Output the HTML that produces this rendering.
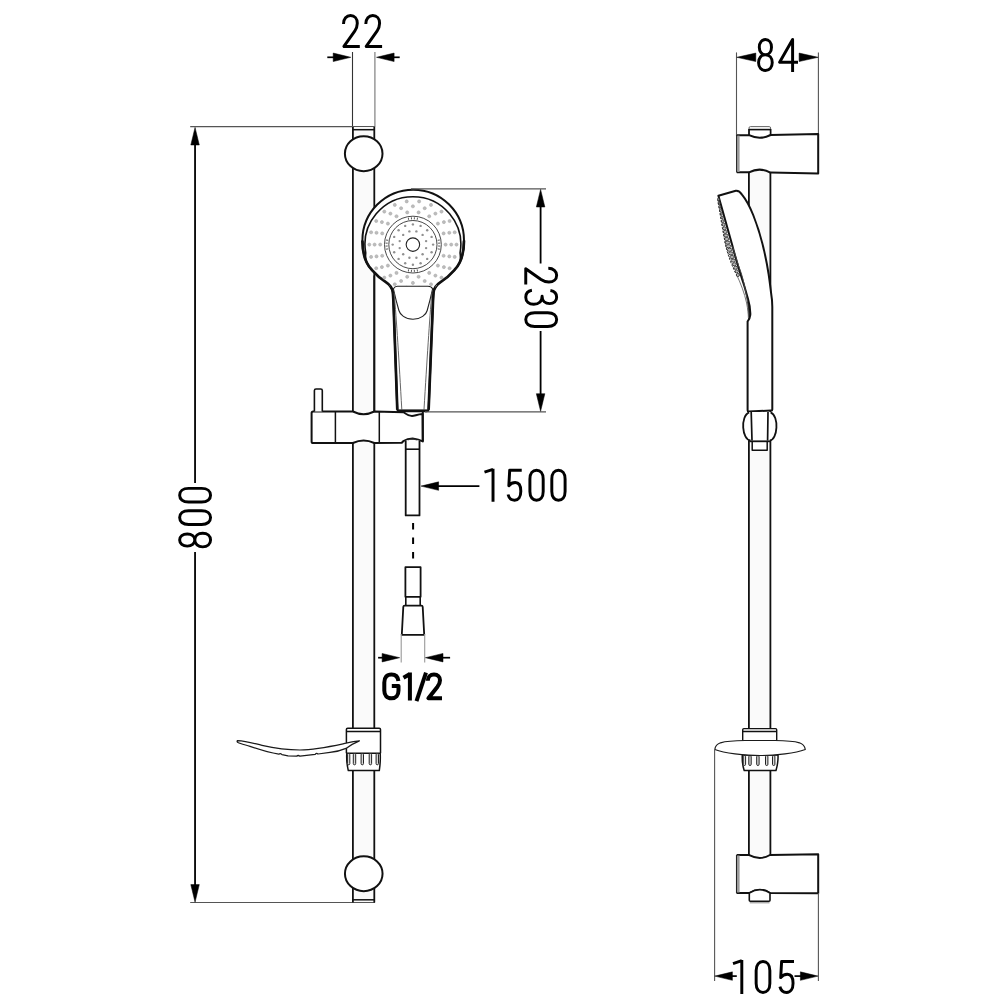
<!DOCTYPE html>
<html><head><meta charset="utf-8"><style>
html,body{margin:0;padding:0;background:#fff;width:1000px;height:1000px;overflow:hidden;font-family:"Liberation Sans",sans-serif}
svg{display:block}
</style></head><body>
<svg width="1000" height="1000" viewBox="0 0 1000 1000">
<rect width="1000" height="1000" fill="#fff"/>
<line x1="352.5" y1="52" x2="352.5" y2="127" stroke="#333" stroke-width="1.1" />
<line x1="374.9" y1="52" x2="374.9" y2="127" stroke="#888" stroke-width="1.3" />
<path d="M350.80,57.30 L333.20,61.55 L333.20,53.05 Z" fill="#000" stroke="#000" stroke-width="0.5" stroke-linejoin="miter"/>
<line x1="334.20" y1="57.30" x2="327.30" y2="57.30" stroke="#000" stroke-width="1.7"/>
<path d="M376.50,57.30 L394.10,53.05 L394.10,61.55 Z" fill="#000" stroke="#000" stroke-width="0.5" stroke-linejoin="miter"/>
<line x1="393.10" y1="57.30" x2="399.70" y2="57.30" stroke="#000" stroke-width="1.7"/>
<line x1="190.2" y1="126.6" x2="375" y2="126.6" stroke="#555" stroke-width="1.2" />
<line x1="190.2" y1="902.5" x2="375" y2="902.5" stroke="#555" stroke-width="1.2" />
<line x1="195.05" y1="140" x2="195.05" y2="483" stroke="#000" stroke-width="1.8" />
<line x1="195.05" y1="552" x2="195.05" y2="888" stroke="#000" stroke-width="1.8" />
<path d="M195.05,127.40 L199.30,145.00 L190.80,145.00 Z" fill="#000" stroke="#000" stroke-width="0.5" stroke-linejoin="miter"/>
<path d="M195.05,902.20 L190.80,884.60 L199.30,884.60 Z" fill="#000" stroke="#000" stroke-width="0.5" stroke-linejoin="miter"/>
<rect x="353" y="127" width="21.4" height="775" fill="#fafafa"/>
<line x1="352.9" y1="127" x2="352.9" y2="902.5" stroke="#111" stroke-width="1.8" />
<line x1="374.3" y1="127" x2="374.3" y2="902.5" stroke="#111" stroke-width="1.8" />
<line x1="352.9" y1="129.7" x2="374.3" y2="129.7" stroke="#111" stroke-width="1.5" />
<line x1="352.9" y1="899.8" x2="374.3" y2="899.8" stroke="#111" stroke-width="1.5" />
<ellipse cx="363.7" cy="153.7" rx="18.8" ry="17.5" fill="#fff" stroke="#111" stroke-width="2"/>
<ellipse cx="363.75" cy="873.75" rx="18.8" ry="17.4" fill="#fff" stroke="#111" stroke-width="2"/>
<path d="M397.3,409.8 C396,370 394.5,330 393.6,306 C393.4,300 393.2,296 392.8,292 C392,287.5 389.5,284.5 386.2,282.4 C381,279 375.5,274 371.8,269.8 C366.5,264.5 362.5,256 362.4,240.5 A50.8,50.8 0 0 1 464,240.5 C463.9,256 459.9,264.5 454.6,269.8 C450.9,274 445.4,279 440.2,282.4 C436.9,284.5 434.4,287.5 433.6,292 C433.2,296 433,300 432.8,306 C431.9,330 430.4,370 428.6,409.8 Q428.5,411.2 427,411.2 L399,411.2 Q397.4,411.2 397.3,409.8 Z" fill="#fff" stroke="#111" stroke-width="2.0" stroke-linejoin="round" />
<circle cx="412.9" cy="244.6" r="47.9" fill="#fff" stroke="none"/>
<path d="M366.4,262 Q365.2,258 365.73,252.92 A47.9,47.9 0 1 1 460.07,252.92 Q460.8,258 460,262" fill="none" stroke="#111" stroke-width="1.6" stroke-linejoin="round" />
<path d="M362.4,240.5 C362.5,256 366.5,264.5 371.8,269.8 C375.5,274 381,279 386.2,282.4 C389.5,284.5 392,287.5 392.8,292 C393.2,296 393.4,300 393.6,306 C394.5,330 396,370 397.3,409.8" fill="none" stroke="#111" stroke-width="2.7" stroke-linejoin="round" />
<path d="M464,240.5 C463.9,256 459.9,264.5 454.6,269.8 C450.9,274 445.4,279 440.2,282.4 C436.9,284.5 434.4,287.5 433.6,292 C433.2,296 433,300 432.8,306 C431.9,330 430.4,370 428.6,409.8" fill="none" stroke="#111" stroke-width="2.7" stroke-linejoin="round" />
<clipPath id="fc"><path d="M392.8,292 C392,287.5 389.5,284.5 386.2,282.4 C381,279 375.5,274 371.8,269.8 C366.5,264.5 364.5,256 364.7,244.6 A48.2,48.2 0 0 1 461.1,244.6 C461.9,256 459.9,264.5 454.6,269.8 C450.9,274 445.4,279 440.2,282.4 C436.9,284.5 434.4,287.5 433.6,292 Z"/></clipPath>
<g clip-path="url(#fc)">
<circle cx="416.4" cy="231.4" r="1.2" fill="#909090"/>
<circle cx="422.6" cy="234.9" r="1.2" fill="#909090"/>
<circle cx="426.1" cy="241.1" r="1.2" fill="#909090"/>
<circle cx="426.1" cy="248.1" r="1.2" fill="#909090"/>
<circle cx="422.6" cy="254.3" r="1.2" fill="#909090"/>
<circle cx="416.4" cy="257.8" r="1.2" fill="#909090"/>
<circle cx="409.4" cy="257.8" r="1.2" fill="#909090"/>
<circle cx="403.2" cy="254.3" r="1.2" fill="#909090"/>
<circle cx="399.7" cy="248.1" r="1.2" fill="#909090"/>
<circle cx="399.7" cy="241.1" r="1.2" fill="#909090"/>
<circle cx="403.2" cy="234.9" r="1.2" fill="#909090"/>
<circle cx="409.4" cy="231.4" r="1.2" fill="#909090"/>
<circle cx="412.9" cy="224.4" r="1.2" fill="#909090"/>
<circle cx="420.6" cy="225.9" r="1.2" fill="#909090"/>
<circle cx="427.2" cy="230.3" r="1.2" fill="#909090"/>
<circle cx="431.6" cy="236.9" r="1.2" fill="#909090"/>
<circle cx="433.1" cy="244.6" r="1.2" fill="#909090"/>
<circle cx="431.6" cy="252.3" r="1.2" fill="#909090"/>
<circle cx="427.2" cy="258.9" r="1.2" fill="#909090"/>
<circle cx="420.6" cy="263.3" r="1.2" fill="#909090"/>
<circle cx="412.9" cy="264.8" r="1.2" fill="#909090"/>
<circle cx="405.2" cy="263.3" r="1.2" fill="#909090"/>
<circle cx="398.6" cy="258.9" r="1.2" fill="#909090"/>
<circle cx="394.2" cy="252.3" r="1.2" fill="#909090"/>
<circle cx="392.7" cy="244.6" r="1.2" fill="#909090"/>
<circle cx="394.2" cy="236.9" r="1.2" fill="#909090"/>
<circle cx="398.6" cy="230.3" r="1.2" fill="#909090"/>
<circle cx="405.2" cy="225.9" r="1.2" fill="#909090"/>
<circle cx="418.6" cy="212.4" r="1.55" fill="#bdbdbd" stroke="#adadad" stroke-width="0.6"/>
<circle cx="429.2" cy="216.3" r="1.55" fill="#bdbdbd" stroke="#adadad" stroke-width="0.6"/>
<circle cx="437.9" cy="223.6" r="1.55" fill="#bdbdbd" stroke="#adadad" stroke-width="0.6"/>
<circle cx="443.6" cy="233.4" r="1.55" fill="#bdbdbd" stroke="#adadad" stroke-width="0.6"/>
<circle cx="445.6" cy="244.6" r="1.55" fill="#bdbdbd" stroke="#adadad" stroke-width="0.6"/>
<circle cx="443.6" cy="255.8" r="1.55" fill="#bdbdbd" stroke="#adadad" stroke-width="0.6"/>
<circle cx="437.9" cy="265.6" r="1.55" fill="#bdbdbd" stroke="#adadad" stroke-width="0.6"/>
<circle cx="429.2" cy="272.9" r="1.55" fill="#bdbdbd" stroke="#adadad" stroke-width="0.6"/>
<circle cx="418.6" cy="276.8" r="1.55" fill="#bdbdbd" stroke="#adadad" stroke-width="0.6"/>
<circle cx="407.2" cy="276.8" r="1.55" fill="#bdbdbd" stroke="#adadad" stroke-width="0.6"/>
<circle cx="396.5" cy="272.9" r="1.55" fill="#bdbdbd" stroke="#adadad" stroke-width="0.6"/>
<circle cx="387.9" cy="265.6" r="1.55" fill="#bdbdbd" stroke="#adadad" stroke-width="0.6"/>
<circle cx="382.2" cy="255.8" r="1.55" fill="#bdbdbd" stroke="#adadad" stroke-width="0.6"/>
<circle cx="380.2" cy="244.6" r="1.55" fill="#bdbdbd" stroke="#adadad" stroke-width="0.6"/>
<circle cx="382.2" cy="233.4" r="1.55" fill="#bdbdbd" stroke="#adadad" stroke-width="0.6"/>
<circle cx="387.9" cy="223.6" r="1.55" fill="#bdbdbd" stroke="#adadad" stroke-width="0.6"/>
<circle cx="396.5" cy="216.3" r="1.55" fill="#bdbdbd" stroke="#adadad" stroke-width="0.6"/>
<circle cx="407.2" cy="212.4" r="1.55" fill="#bdbdbd" stroke="#adadad" stroke-width="0.6"/>
<circle cx="412.9" cy="206.3" r="1.55" fill="#bdbdbd" stroke="#adadad" stroke-width="0.6"/>
<circle cx="424.7" cy="208.2" r="1.55" fill="#bdbdbd" stroke="#adadad" stroke-width="0.6"/>
<circle cx="435.4" cy="213.6" r="1.55" fill="#bdbdbd" stroke="#adadad" stroke-width="0.6"/>
<circle cx="443.9" cy="222.1" r="1.55" fill="#bdbdbd" stroke="#adadad" stroke-width="0.6"/>
<circle cx="449.3" cy="232.8" r="1.55" fill="#bdbdbd" stroke="#adadad" stroke-width="0.6"/>
<circle cx="451.2" cy="244.6" r="1.55" fill="#bdbdbd" stroke="#adadad" stroke-width="0.6"/>
<circle cx="449.3" cy="256.4" r="1.55" fill="#bdbdbd" stroke="#adadad" stroke-width="0.6"/>
<circle cx="443.9" cy="267.1" r="1.55" fill="#bdbdbd" stroke="#adadad" stroke-width="0.6"/>
<circle cx="435.4" cy="275.6" r="1.55" fill="#bdbdbd" stroke="#adadad" stroke-width="0.6"/>
<circle cx="424.7" cy="281.0" r="1.55" fill="#bdbdbd" stroke="#adadad" stroke-width="0.6"/>
<circle cx="412.9" cy="282.9" r="1.55" fill="#bdbdbd" stroke="#adadad" stroke-width="0.6"/>
<circle cx="401.1" cy="281.0" r="1.55" fill="#bdbdbd" stroke="#adadad" stroke-width="0.6"/>
<circle cx="390.4" cy="275.6" r="1.55" fill="#bdbdbd" stroke="#adadad" stroke-width="0.6"/>
<circle cx="381.9" cy="267.1" r="1.55" fill="#bdbdbd" stroke="#adadad" stroke-width="0.6"/>
<circle cx="376.5" cy="256.4" r="1.55" fill="#bdbdbd" stroke="#adadad" stroke-width="0.6"/>
<circle cx="374.6" cy="244.6" r="1.55" fill="#bdbdbd" stroke="#adadad" stroke-width="0.6"/>
<circle cx="376.5" cy="232.8" r="1.55" fill="#bdbdbd" stroke="#adadad" stroke-width="0.6"/>
<circle cx="381.9" cy="222.1" r="1.55" fill="#bdbdbd" stroke="#adadad" stroke-width="0.6"/>
<circle cx="390.4" cy="213.6" r="1.55" fill="#bdbdbd" stroke="#adadad" stroke-width="0.6"/>
<circle cx="401.1" cy="208.2" r="1.55" fill="#bdbdbd" stroke="#adadad" stroke-width="0.6"/>
<circle cx="419.1" cy="201.4" r="1.55" fill="#bdbdbd" stroke="#adadad" stroke-width="0.6"/>
<circle cx="431.0" cy="204.9" r="1.55" fill="#bdbdbd" stroke="#adadad" stroke-width="0.6"/>
<circle cx="441.5" cy="211.6" r="1.55" fill="#bdbdbd" stroke="#adadad" stroke-width="0.6"/>
<circle cx="449.6" cy="221.0" r="1.55" fill="#bdbdbd" stroke="#adadad" stroke-width="0.6"/>
<circle cx="454.7" cy="232.3" r="1.55" fill="#bdbdbd" stroke="#adadad" stroke-width="0.6"/>
<circle cx="456.5" cy="244.6" r="1.55" fill="#bdbdbd" stroke="#adadad" stroke-width="0.6"/>
<circle cx="454.7" cy="256.9" r="1.55" fill="#bdbdbd" stroke="#adadad" stroke-width="0.6"/>
<circle cx="449.6" cy="268.2" r="1.55" fill="#bdbdbd" stroke="#adadad" stroke-width="0.6"/>
<circle cx="441.5" cy="277.6" r="1.55" fill="#bdbdbd" stroke="#adadad" stroke-width="0.6"/>
<circle cx="431.0" cy="284.3" r="1.55" fill="#bdbdbd" stroke="#adadad" stroke-width="0.6"/>
<circle cx="419.1" cy="287.8" r="1.55" fill="#bdbdbd" stroke="#adadad" stroke-width="0.6"/>
<circle cx="406.7" cy="287.8" r="1.55" fill="#bdbdbd" stroke="#adadad" stroke-width="0.6"/>
<circle cx="394.8" cy="284.3" r="1.55" fill="#bdbdbd" stroke="#adadad" stroke-width="0.6"/>
<circle cx="384.3" cy="277.6" r="1.55" fill="#bdbdbd" stroke="#adadad" stroke-width="0.6"/>
<circle cx="376.2" cy="268.2" r="1.55" fill="#bdbdbd" stroke="#adadad" stroke-width="0.6"/>
<circle cx="371.1" cy="256.9" r="1.55" fill="#bdbdbd" stroke="#adadad" stroke-width="0.6"/>
<circle cx="369.3" cy="244.6" r="1.55" fill="#bdbdbd" stroke="#adadad" stroke-width="0.6"/>
<circle cx="371.1" cy="232.3" r="1.55" fill="#bdbdbd" stroke="#adadad" stroke-width="0.6"/>
<circle cx="376.2" cy="221.0" r="1.55" fill="#bdbdbd" stroke="#adadad" stroke-width="0.6"/>
<circle cx="384.3" cy="211.6" r="1.55" fill="#bdbdbd" stroke="#adadad" stroke-width="0.6"/>
<circle cx="394.8" cy="204.9" r="1.55" fill="#bdbdbd" stroke="#adadad" stroke-width="0.6"/>
<circle cx="406.7" cy="201.4" r="1.55" fill="#bdbdbd" stroke="#adadad" stroke-width="0.6"/>
<circle cx="447.5" cy="279.2" r="1.55" fill="#bdbdbd" stroke="#adadad" stroke-width="0.6"/>
<circle cx="437.3" cy="286.9" r="1.55" fill="#bdbdbd" stroke="#adadad" stroke-width="0.6"/>
<circle cx="425.6" cy="291.8" r="1.55" fill="#bdbdbd" stroke="#adadad" stroke-width="0.6"/>
<circle cx="412.9" cy="293.5" r="1.55" fill="#bdbdbd" stroke="#adadad" stroke-width="0.6"/>
<circle cx="400.2" cy="291.8" r="1.55" fill="#bdbdbd" stroke="#adadad" stroke-width="0.6"/>
<circle cx="388.4" cy="286.9" r="1.55" fill="#bdbdbd" stroke="#adadad" stroke-width="0.6"/>
<circle cx="378.3" cy="279.2" r="1.55" fill="#bdbdbd" stroke="#adadad" stroke-width="0.6"/>
<circle cx="453.5" cy="280.5" r="1.55" fill="#bdbdbd" stroke="#adadad" stroke-width="0.6"/>
<circle cx="443.7" cy="289.2" r="1.55" fill="#bdbdbd" stroke="#adadad" stroke-width="0.6"/>
<circle cx="432.1" cy="295.3" r="1.55" fill="#bdbdbd" stroke="#adadad" stroke-width="0.6"/>
<circle cx="419.4" cy="298.4" r="1.55" fill="#bdbdbd" stroke="#adadad" stroke-width="0.6"/>
<circle cx="406.4" cy="298.4" r="1.55" fill="#bdbdbd" stroke="#adadad" stroke-width="0.6"/>
<circle cx="393.7" cy="295.3" r="1.55" fill="#bdbdbd" stroke="#adadad" stroke-width="0.6"/>
<circle cx="382.1" cy="289.2" r="1.55" fill="#bdbdbd" stroke="#adadad" stroke-width="0.6"/>
<circle cx="372.3" cy="280.5" r="1.55" fill="#bdbdbd" stroke="#adadad" stroke-width="0.6"/>
</g>
<circle cx="412.9" cy="244.6" r="28.4" fill="none" stroke="#333" stroke-width="0.9"/>
<circle cx="412.9" cy="244.6" r="24.1" fill="none" stroke="#333" stroke-width="0.9"/>
<circle cx="412.9" cy="244.6" r="6.75" fill="#fff" stroke="#222" stroke-width="1.1"/>
<line x1="408.6" y1="219.8" x2="408.3" y2="217.7" stroke="#444" stroke-width="0.9" />
<line x1="411.5" y1="219.4" x2="411.4" y2="217.3" stroke="#444" stroke-width="0.9" />
<line x1="414.3" y1="219.4" x2="414.4" y2="217.3" stroke="#444" stroke-width="0.9" />
<line x1="417.2" y1="219.8" x2="417.5" y2="217.7" stroke="#444" stroke-width="0.9" />
<line x1="417.2" y1="269.4" x2="417.5" y2="271.5" stroke="#444" stroke-width="0.9" />
<line x1="414.3" y1="269.8" x2="414.4" y2="271.9" stroke="#444" stroke-width="0.9" />
<line x1="411.5" y1="269.8" x2="411.4" y2="271.9" stroke="#444" stroke-width="0.9" />
<line x1="408.6" y1="269.4" x2="408.3" y2="271.5" stroke="#444" stroke-width="0.9" />
<line x1="388.1" y1="248.9" x2="386.0" y2="249.2" stroke="#444" stroke-width="0.9" />
<line x1="387.7" y1="246.0" x2="385.6" y2="246.1" stroke="#444" stroke-width="0.9" />
<line x1="387.7" y1="243.2" x2="385.6" y2="243.1" stroke="#444" stroke-width="0.9" />
<line x1="388.1" y1="240.3" x2="386.0" y2="240.0" stroke="#444" stroke-width="0.9" />
<line x1="437.7" y1="240.3" x2="439.8" y2="240.0" stroke="#444" stroke-width="0.9" />
<line x1="438.1" y1="243.2" x2="440.2" y2="243.1" stroke="#444" stroke-width="0.9" />
<line x1="438.1" y1="246.0" x2="440.2" y2="246.1" stroke="#444" stroke-width="0.9" />
<line x1="437.7" y1="248.9" x2="439.8" y2="249.2" stroke="#444" stroke-width="0.9" />
<path d="M393.4,288.8 C394.4,287 395.4,286.2 397.4,286.2 L428,286.2 C430,286.2 431.6,287 432.6,288.8 C431,296 429,304 427.2,310.5 C426.2,314.5 421,319.3 413,319.3 C405,319.3 400,314.5 398.9,310.5 C397,304 395,296 393.4,288.8 Z" fill="#fff" stroke="#222" stroke-width="1.1" stroke-linejoin="round" />
<path d="M394.2,293 C396.5,320 399,360 401.8,409.5" fill="none" stroke="#555" stroke-width="0.9" stroke-linejoin="round" />
<path d="M431.8,293 C429.5,320 427,360 424,409.5" fill="none" stroke="#555" stroke-width="0.9" stroke-linejoin="round" />
<line x1="397.5" y1="410.6" x2="428.5" y2="410.6" stroke="#111" stroke-width="2.4" />
<line x1="374.3" y1="275.5" x2="374.3" y2="411.5" stroke="#111" stroke-width="1.8" />
<line x1="411" y1="188.8" x2="546" y2="188.8" stroke="#555" stroke-width="1.2" />
<line x1="425" y1="411.8" x2="546" y2="411.8" stroke="#555" stroke-width="1.2" />
<line x1="540.6" y1="200" x2="540.6" y2="263.5" stroke="#000" stroke-width="1.8" />
<line x1="540.6" y1="331" x2="540.6" y2="400" stroke="#000" stroke-width="1.8" />
<path d="M540.60,189.40 L544.85,207.00 L536.35,207.00 Z" fill="#000" stroke="#000" stroke-width="0.5" stroke-linejoin="miter"/>
<path d="M540.60,411.30 L536.35,393.70 L544.85,393.70 Z" fill="#000" stroke="#000" stroke-width="0.5" stroke-linejoin="miter"/>
<path d="M313.2,411.5 L352.9,411.5 Q363.6,416.8 374.3,411.5 L403.6,412.3 C406,414 408.5,415.9 412,415.9 C415,415.9 417,414.4 422.6,414.1 L422.8,441.4 C420,439.8 418,439 412.6,438.4 C409,438.4 406.5,439 403.5,441 L401.8,442.8 L374.3,443 Q363.6,437.8 352.9,443 L313.2,443 Q311.6,443 311.6,441.4 L311.6,413.1 Q311.6,411.5 313.2,411.5 Z" fill="#fff" stroke="#111" stroke-width="2.0" stroke-linejoin="round" />
<line x1="335.4" y1="411.5" x2="335.4" y2="443" stroke="#111" stroke-width="1.5" />
<line x1="379.3" y1="412" x2="379.3" y2="443" stroke="#111" stroke-width="1.5" />
<line x1="422.8" y1="410.8" x2="422.8" y2="441.4" stroke="#111" stroke-width="2.0" />
<path d="M314.4,411.5 L314.4,390.6 Q314.4,389 316,389 L320.7,389 Q322.3,389 322.3,390.6 L322.3,411.5" fill="#fff" stroke="#111" stroke-width="1.6" stroke-linejoin="round" />
<path d="M405.7,440.5 L405.7,515.4 L419.5,515.4 L419.5,440.5" fill="#fff" stroke="#111" stroke-width="1.8" stroke-linejoin="round" />
<line x1="405.7" y1="449.2" x2="419.5" y2="449.2" stroke="#111" stroke-width="1.6" />
<path d="M408.5,440 C410,438.6 414,438.6 416.5,440" fill="none" stroke="#333" stroke-width="0.9" stroke-linejoin="round" />
<path d="M421.00,486.10 L438.60,481.85 L438.60,490.35 Z" fill="#000" stroke="#000" stroke-width="0.5" stroke-linejoin="miter"/>
<line x1="437.60" y1="486.10" x2="479.40" y2="486.10" stroke="#000" stroke-width="1.7"/>
<line x1="413.1" y1="523" x2="413.1" y2="560" stroke="#000" stroke-width="2.0" stroke-dasharray="6.5 8"/>
<path d="M405.4,596.8 L405.4,567.2 L420.6,567.2 L420.6,596.8 Z" fill="#fff" stroke="#111" stroke-width="1.8" stroke-linejoin="round" />
<path d="M405.8,596.8 L405.8,605.6 M420.2,596.8 L420.2,605.6" fill="none" stroke="#111" stroke-width="1.6" stroke-linejoin="round" />
<path d="M404.6,605.6 L421.4,605.6 Q422.6,605.6 422.7,606.8 L424.2,634.8 L401.8,634.8 L403.3,606.8 Q403.4,605.6 404.6,605.6 Z" fill="#fff" stroke="#111" stroke-width="1.8" stroke-linejoin="round" />
<line x1="401.2" y1="634" x2="401.2" y2="662.5" stroke="#999" stroke-width="1.1" />
<line x1="424.7" y1="634" x2="424.7" y2="662.5" stroke="#999" stroke-width="1.1" />
<path d="M399.70,657.70 L382.10,661.95 L382.10,653.45 Z" fill="#000" stroke="#000" stroke-width="0.5" stroke-linejoin="miter"/>
<line x1="383.10" y1="657.70" x2="378.10" y2="657.70" stroke="#000" stroke-width="1.7"/>
<path d="M425.40,657.70 L443.00,653.45 L443.00,661.95 Z" fill="#000" stroke="#000" stroke-width="0.5" stroke-linejoin="miter"/>
<line x1="442.00" y1="657.70" x2="450.10" y2="657.70" stroke="#000" stroke-width="1.7"/>
<path d="M346.4,753.3 L346.4,729.6 Q346.4,728.3 347.7,728.3 L379.2,728.3 Q380.5,728.3 380.5,729.6 L380.5,753.3" fill="#fff" stroke="#111" stroke-width="1.5" stroke-linejoin="round" />
<line x1="346.4" y1="731.4" x2="380.5" y2="731.4" stroke="#111" stroke-width="1.5" />
<path d="M346.8,753.3 L380.2,753.3 C380.6,760 380,766 379.3,770.6 L348.3,770.6 C347.2,766 346.4,760 346.8,753.3 Z" fill="#fff" stroke="#111" stroke-width="1.5" stroke-linejoin="round" />
<rect x="347.4" y="753.5" width="2.4" height="11.3" rx="1.2" fill="#d8d8d8" stroke="#222" stroke-width="1.0"/>
<rect x="353.3" y="753.5" width="2.4" height="11.3" rx="1.2" fill="#d8d8d8" stroke="#222" stroke-width="1.0"/>
<rect x="361.1" y="753.5" width="2.4" height="11.3" rx="1.2" fill="#d8d8d8" stroke="#222" stroke-width="1.0"/>
<rect x="369.2" y="753.5" width="2.4" height="11.3" rx="1.2" fill="#d8d8d8" stroke="#222" stroke-width="1.0"/>
<rect x="376.1" y="753.5" width="2.4" height="11.3" rx="1.2" fill="#d8d8d8" stroke="#222" stroke-width="1.0"/>
<path d="M237.6,740.6 C246,741 253,743.2 262,745.3 C272,747.5 285,749.8 300,750 C316,749.8 330,746.6 346,743.2 C351,742 355,741.2 359.4,740.8 C354,743 350,745.5 346,748.4 C340,751 335,752 330,752.4 L318,754 Q316.5,752.8 315.2,754.3 L300,756.2 Q298,754.8 296.6,756.2 L288,755.9 L282,754.6 Q280.3,753 278.8,754.2 C272,753 262,750.5 250,746.3 C244,744.5 240,743.5 238,742.5 Q236.5,741.5 237.6,740.6 Z" fill="#fff" stroke="#1a1a1a" stroke-width="1.25" stroke-linejoin="round" />
<line x1="736.5" y1="52.4" x2="736.5" y2="136" stroke="#555" stroke-width="1.1" />
<line x1="818.4" y1="52.4" x2="818.4" y2="134" stroke="#555" stroke-width="1.1" />
<path d="M736.80,57.30 L755.80,53.05 L755.80,61.55 Z" fill="#000" stroke="#000" stroke-width="0.5" stroke-linejoin="miter"/>
<path d="M818.10,57.30 L799.10,61.55 L799.10,53.05 Z" fill="#000" stroke="#000" stroke-width="0.5" stroke-linejoin="miter"/>
<rect x="749.2" y="127" width="21.2" height="775" fill="#fafafa"/>
<line x1="748.9" y1="170" x2="748.9" y2="858" stroke="#111" stroke-width="1.8" />
<line x1="770.4" y1="170" x2="770.4" y2="858" stroke="#111" stroke-width="1.8" />
<path d="M749,137 L749,128 Q749,126.6 750.4,126.6 L769.2,126.6 Q770.6,126.6 770.6,128 L770.6,137" fill="#fff" stroke="#666" stroke-width="1.0" stroke-linejoin="round" />
<line x1="749" y1="129.6" x2="770.6" y2="129.6" stroke="#111" stroke-width="1.6" />
<line x1="749" y1="129" x2="749" y2="137" stroke="#111" stroke-width="1.7" />
<line x1="770.6" y1="129" x2="770.6" y2="137" stroke="#111" stroke-width="1.7" />
<path d="M736.8,135.3 L749,135.2 Q760,140.5 770.6,135 L818.2,134 L818.2,173.6 L770.4,172.6 Q760,166.8 748.9,172.3 L736.8,172.3" fill="#fff" stroke="#111" stroke-width="2.0" stroke-linejoin="round" />
<rect x="737.2" y="135.6" width="2.4" height="36.4" fill="#9a9a9a"/>
<line x1="736.6" y1="135" x2="736.6" y2="172.6" stroke="#222" stroke-width="1.1" />
<path d="M718.4,195.8 L735.8,190.7 C738.5,190.4 740.5,192.3 742,194.6 C746,199.5 750,207 753.2,215 C758,227 764,245 768.6,274 C770,283 770.8,291.6 772,300 L772.3,307 L772.3,409.4 Q772.3,410.6 771,410.6 L748.8,411.4 Q747.6,411.4 747.6,410.2 L747.6,321.5 C748.5,320.5 749.9,319 750.3,315 C750.5,310 749.5,304 747.9,298.6 C746,292 744.5,286 742.5,280.5 C738,266 735,256 732.2,245 Z" fill="#fff" stroke="#111" stroke-width="2.0" stroke-linejoin="round" />
<path d="M732.6,246.5 C735.5,256 738.5,266 741,272.5 C743.5,280 746,292 747.6,303 C748.4,309 748.6,314 748.6,318.5" fill="none" stroke="#444" stroke-width="1.0" stroke-linejoin="round" />
<path d="M736.3,274 C740.5,283 744.5,293 746.6,303 C747.8,309 748.3,314 748.4,318" fill="none" stroke="#666" stroke-width="0.9" stroke-linejoin="round" />
<ellipse cx="718.4" cy="199.5" rx="0.9" ry="1.5" fill="#bbb" stroke="#333" stroke-width="0.9"/>
<ellipse cx="719.0" cy="203.1" rx="0.9" ry="1.5" fill="#bbb" stroke="#333" stroke-width="0.9"/>
<ellipse cx="719.7" cy="206.7" rx="0.9" ry="1.5" fill="#bbb" stroke="#333" stroke-width="0.9"/>
<ellipse cx="720.5" cy="210.3" rx="0.9" ry="1.5" fill="#bbb" stroke="#333" stroke-width="0.9"/>
<ellipse cx="721.2" cy="213.9" rx="0.9" ry="1.5" fill="#bbb" stroke="#333" stroke-width="0.9"/>
<ellipse cx="722.0" cy="217.5" rx="1.1" ry="1.5" fill="#bbb" stroke="#333" stroke-width="0.9"/>
<ellipse cx="722.8" cy="221.1" rx="1.3" ry="1.5" fill="#bbb" stroke="#333" stroke-width="0.9"/>
<ellipse cx="723.6" cy="224.7" rx="1.5" ry="1.5" fill="#bbb" stroke="#333" stroke-width="0.9"/>
<ellipse cx="724.4" cy="228.3" rx="1.8" ry="1.5" fill="#bbb" stroke="#333" stroke-width="0.9"/>
<ellipse cx="725.2" cy="231.9" rx="2.0" ry="1.5" fill="#bbb" stroke="#333" stroke-width="0.9"/>
<ellipse cx="725.9" cy="235.5" rx="2.2" ry="1.5" fill="#bbb" stroke="#333" stroke-width="0.9"/>
<ellipse cx="726.7" cy="239.0" rx="2.4" ry="1.5" fill="#bbb" stroke="#333" stroke-width="0.9"/>
<ellipse cx="727.5" cy="242.6" rx="2.6" ry="1.5" fill="#bbb" stroke="#333" stroke-width="0.9"/>
<ellipse cx="728.4" cy="246.2" rx="2.7" ry="1.5" fill="#bbb" stroke="#333" stroke-width="0.9"/>
<ellipse cx="729.6" cy="249.8" rx="2.5" ry="1.5" fill="#bbb" stroke="#333" stroke-width="0.9"/>
<ellipse cx="730.8" cy="253.4" rx="2.4" ry="1.5" fill="#bbb" stroke="#333" stroke-width="0.9"/>
<ellipse cx="732.0" cy="257.0" rx="2.3" ry="1.5" fill="#bbb" stroke="#333" stroke-width="0.9"/>
<ellipse cx="733.2" cy="260.6" rx="2.1" ry="1.5" fill="#bbb" stroke="#333" stroke-width="0.9"/>
<ellipse cx="734.4" cy="264.2" rx="2.0" ry="1.5" fill="#bbb" stroke="#333" stroke-width="0.9"/>
<ellipse cx="735.6" cy="267.8" rx="1.9" ry="1.5" fill="#bbb" stroke="#333" stroke-width="0.9"/>
<ellipse cx="736.7" cy="271.4" rx="1.7" ry="1.5" fill="#bbb" stroke="#333" stroke-width="0.9"/>
<ellipse cx="737.9" cy="275.0" rx="1.6" ry="1.5" fill="#bbb" stroke="#333" stroke-width="0.9"/>
<path d="M718.0,199.5 C720,215 723,232 725.6,245 C728,256 732,266 736.2,274.2" fill="none" stroke="#333" stroke-width="1.0" stroke-linejoin="round" stroke-dasharray="2.2 1.3"/>
<path d="M749.3,412 C740,416 742,440 750.5,441 L769.8,441 C777.5,440 779.5,416 770.6,412 Z" fill="#fff"/>
<path d="M749.2,412.4 C740,416 742,440 750.5,440.5" fill="none" stroke="#111" stroke-width="1.8" stroke-linejoin="round" />
<path d="M770.6,412.4 C779.5,416 777.5,440 769.8,440.5" fill="none" stroke="#111" stroke-width="1.8" stroke-linejoin="round" />
<path d="M751.2,412 L752,440.5 M768,412 L767.6,440.5" fill="none" stroke="#111" stroke-width="1.7" stroke-linejoin="round" />
<path d="M752.2,441.2 L752.2,450.2 L767.2,450.2 L767.2,441.2" fill="#fff" stroke="#111" stroke-width="1.5" stroke-linejoin="round" />
<line x1="749.4" y1="441.3" x2="770.6" y2="441.3" stroke="#111" stroke-width="1.8" />
<path d="M742.7,741 L742.7,729.8 Q742.7,728.6 743.9,728.6 L775.5,728.6 Q776.7,728.6 776.7,729.8 L776.7,741" fill="#fff" stroke="#111" stroke-width="1.4" stroke-linejoin="round" />
<line x1="742.7" y1="731.5" x2="776.7" y2="731.5" stroke="#111" stroke-width="1.3" />
<path d="M742.3,755 L778,755 C778.4,762 777,767 776,770.5 L744.2,770.5 C743,767 742,762 742.3,755 Z" fill="#fff" stroke="#111" stroke-width="1.5" stroke-linejoin="round" />
<rect x="743.2" y="755.5" width="2.4" height="10" rx="1.2" fill="#d8d8d8" stroke="#222" stroke-width="1.0"/>
<rect x="748.8" y="755.5" width="2.4" height="10" rx="1.2" fill="#d8d8d8" stroke="#222" stroke-width="1.0"/>
<rect x="756.7" y="755.5" width="2.4" height="10" rx="1.2" fill="#d8d8d8" stroke="#222" stroke-width="1.0"/>
<rect x="765.5" y="755.5" width="2.4" height="10" rx="1.2" fill="#d8d8d8" stroke="#222" stroke-width="1.0"/>
<rect x="772.5" y="755.5" width="2.4" height="10" rx="1.2" fill="#d8d8d8" stroke="#222" stroke-width="1.0"/>
<path d="M714.8,749.5 C715.2,746.5 717,744 720.5,742.8 C726,741.2 735,740.6 745,740.5 L775,740.5 C785,740.6 794,741.2 799.5,742.8 C803,744 804.8,746.5 805.3,749.5 C800,751.5 795,752.6 785,753.8 C775,755 767,755.5 760,755.5 C753,755.5 745,755 735,753.8 C725,752.6 720,751.5 714.8,749.5 Z" fill="#fff" stroke="#1a1a1a" stroke-width="1.2" stroke-linejoin="round" />
<line x1="714.6" y1="750" x2="714.6" y2="981" stroke="#555" stroke-width="1.1" />
<path d="M736.6,855.1 L749.3,855.1 Q760,860.8 770,855 L818.2,854.2 L818.2,893.2 L770,893 Q760,886.5 749.3,893 L736.6,892.9" fill="#fff" stroke="#111" stroke-width="2.0" stroke-linejoin="round" />
<rect x="737.1" y="855.5" width="2.5" height="37" fill="#9a9a9a"/>
<line x1="736.5" y1="855" x2="736.5" y2="893.2" stroke="#222" stroke-width="1.1" />
<path d="M749.3,893 Q760,886.5 770,893 L770,900.2 Q770,901.2 769,901.2 L750.3,901.2 Q749.3,901.2 749.3,900.2 Z" fill="#fff" stroke="#111" stroke-width="1.6" stroke-linejoin="round" />
<line x1="749.8" y1="902.8" x2="769.5" y2="902.8" stroke="#888" stroke-width="1.0" />
<line x1="818.4" y1="893" x2="818.4" y2="981" stroke="#555" stroke-width="1.1" />
<path d="M714.80,976.10 L732.40,971.85 L732.40,980.35 Z" fill="#000" stroke="#000" stroke-width="0.5" stroke-linejoin="miter"/>
<line x1="731.40" y1="976.10" x2="736.80" y2="976.10" stroke="#000" stroke-width="1.7"/>
<path d="M818.00,976.10 L800.40,980.35 L800.40,971.85 Z" fill="#000" stroke="#000" stroke-width="0.5" stroke-linejoin="miter"/>
<line x1="801.40" y1="976.10" x2="794.50" y2="976.10" stroke="#000" stroke-width="1.7"/>
<path transform="translate(342.00,14.00)" d="M1.5,9.9 C1.5,4.8 4.6,1.55 8.5,1.55 C12.6,1.55 15.3,4.8 15.3,9.3 C15.3,12.6 14.3,14.8 12.7,17.2 L1.9,32.45 L17.8,32.45" fill="none" stroke="#000" stroke-width="2.95" stroke-linejoin="round"/>
<path transform="translate(364.30,14.00)" d="M1.5,9.9 C1.5,4.8 4.6,1.55 8.5,1.55 C12.6,1.55 15.3,4.8 15.3,9.3 C15.3,12.6 14.3,14.8 12.7,17.2 L1.9,32.45 L17.8,32.45" fill="none" stroke="#000" stroke-width="2.95" stroke-linejoin="round"/>
<path transform="translate(757.00,38.00)" d="M8.4,16.7 C4.9,16.7 2.3,13.6 2.3,9.2 C2.3,4.6 4.9,1.55 8.4,1.55 C11.9,1.55 14.5,4.6 14.5,9.2 C14.5,13.6 11.9,16.7 8.4,16.7 Z M8.4,16.7 C4.3,16.7 1.55,20 1.55,24.6 C1.55,29.3 4.3,32.45 8.4,32.45 C12.5,32.45 15.25,29.3 15.25,24.6 C15.25,20 12.5,16.7 8.4,16.7 Z" fill="none" stroke="#000" stroke-width="2.95" stroke-linejoin="round"/>
<path transform="translate(778.00,38.00)" d="M14.6,34 L14.6,1.4 L1.6,24.2 L20,24.2" fill="none" stroke="#000" stroke-width="2.95" stroke-linejoin="round"/>
<path transform="translate(732.60,960.00)" d="M0.4,3.6 L9.2,0.7 M9.2,0 L9.2,34" fill="none" stroke="#000" stroke-width="2.95" stroke-linejoin="round"/>
<path transform="translate(754.60,960.00)" d="M1.55,10.5 C1.55,4.6 4.5,1.55 8.4,1.55 C12.3,1.55 15.25,4.6 15.25,10.5 L15.25,23.5 C15.25,29.4 12.3,32.45 8.4,32.45 C4.5,32.45 1.55,29.4 1.55,23.5 Z" fill="none" stroke="#000" stroke-width="2.95" stroke-linejoin="round"/>
<path transform="translate(778.40,960.00)" d="M15.6,1.55 L3.2,1.55 L2.3,17.6 C3.9,15.4 6.2,14.2 8.9,14.2 C12.9,14.2 14.65,17.6 14.65,23.2 C14.65,29 12.1,32.45 8.2,32.45 C4.9,32.45 2.4,30.5 1.5,26.6" fill="none" stroke="#000" stroke-width="2.95" stroke-linejoin="round"/>
<path transform="translate(484.10,468.70) scale(0.97)" d="M0.4,3.6 L9.2,0.7 M9.2,0 L9.2,34" fill="none" stroke="#000" stroke-width="3.04" stroke-linejoin="round"/>
<path transform="translate(506.60,468.70) scale(0.97)" d="M15.6,1.55 L3.2,1.55 L2.3,17.6 C3.9,15.4 6.2,14.2 8.9,14.2 C12.9,14.2 14.65,17.6 14.65,23.2 C14.65,29 12.1,32.45 8.2,32.45 C4.9,32.45 2.4,30.5 1.5,26.6" fill="none" stroke="#000" stroke-width="3.04" stroke-linejoin="round"/>
<path transform="translate(528.40,468.70) scale(0.97)" d="M1.55,10.5 C1.55,4.6 4.5,1.55 8.4,1.55 C12.3,1.55 15.25,4.6 15.25,10.5 L15.25,23.5 C15.25,29.4 12.3,32.45 8.4,32.45 C4.5,32.45 1.55,29.4 1.55,23.5 Z" fill="none" stroke="#000" stroke-width="3.04" stroke-linejoin="round"/>
<path transform="translate(550.30,468.70) scale(0.97)" d="M1.55,10.5 C1.55,4.6 4.5,1.55 8.4,1.55 C12.3,1.55 15.25,4.6 15.25,10.5 L15.25,23.5 C15.25,29.4 12.3,32.45 8.4,32.45 C4.5,32.45 1.55,29.4 1.55,23.5 Z" fill="none" stroke="#000" stroke-width="3.04" stroke-linejoin="round"/>
<path transform="translate(178.10,548.40) rotate(-90)" d="M8.4,16.7 C4.9,16.7 2.3,13.6 2.3,9.2 C2.3,4.6 4.9,1.55 8.4,1.55 C11.9,1.55 14.5,4.6 14.5,9.2 C14.5,13.6 11.9,16.7 8.4,16.7 Z M8.4,16.7 C4.3,16.7 1.55,20 1.55,24.6 C1.55,29.3 4.3,32.45 8.4,32.45 C12.5,32.45 15.25,29.3 15.25,24.6 C15.25,20 12.5,16.7 8.4,16.7 Z" fill="none" stroke="#000" stroke-width="2.95" stroke-linejoin="round"/>
<path transform="translate(178.10,526.00) rotate(-90)" d="M1.55,10.5 C1.55,4.6 4.5,1.55 8.4,1.55 C12.3,1.55 15.25,4.6 15.25,10.5 L15.25,23.5 C15.25,29.4 12.3,32.45 8.4,32.45 C4.5,32.45 1.55,29.4 1.55,23.5 Z" fill="none" stroke="#000" stroke-width="2.95" stroke-linejoin="round"/>
<path transform="translate(178.10,503.60) rotate(-90)" d="M1.55,10.5 C1.55,4.6 4.5,1.55 8.4,1.55 C12.3,1.55 15.25,4.6 15.25,10.5 L15.25,23.5 C15.25,29.4 12.3,32.45 8.4,32.45 C4.5,32.45 1.55,29.4 1.55,23.5 Z" fill="none" stroke="#000" stroke-width="2.95" stroke-linejoin="round"/>
<path transform="translate(558.20,266.80) rotate(90)" d="M1.5,9.9 C1.5,4.8 4.6,1.55 8.5,1.55 C12.6,1.55 15.3,4.8 15.3,9.3 C15.3,12.6 14.3,14.8 12.7,17.2 L1.9,32.45 L17.8,32.45" fill="none" stroke="#000" stroke-width="2.95" stroke-linejoin="round"/>
<path transform="translate(558.20,289.00) rotate(90)" d="M1.5,7.8 C2.1,3.8 4.8,1.55 8.3,1.55 C12.2,1.55 14.6,4.4 14.6,8.5 C14.6,12.8 12,16.1 7.2,16.1 C12.6,16.1 15.25,19.5 15.25,24.4 C15.25,29.3 12.3,32.45 8.3,32.45 C4.6,32.45 1.9,30.1 1.3,26.3" fill="none" stroke="#000" stroke-width="2.95" stroke-linejoin="round"/>
<path transform="translate(558.20,311.20) rotate(90)" d="M1.55,10.5 C1.55,4.6 4.5,1.55 8.4,1.55 C12.3,1.55 15.25,4.6 15.25,10.5 L15.25,23.5 C15.25,29.4 12.3,32.45 8.4,32.45 C4.5,32.45 1.55,29.4 1.55,23.5 Z" fill="none" stroke="#000" stroke-width="2.95" stroke-linejoin="round"/>
<path transform="translate(382.20,672.40)" d="M16.2,8.6 C15.8,4.3 13.3,2.1 9.2,2.1 C4.6,2.1 2.1,5.2 2.1,10 L2.1,18 C2.1,22.8 4.6,25.9 9.2,25.9 C13.8,25.9 16.3,22.8 16.3,18 L16.3,13.6 L9.6,13.6" fill="none" stroke="#000" stroke-width="4.0" stroke-linejoin="round"/>
<path transform="translate(402.90,672.40)" d="M0.6,5.4 L7,1.6 M7,0 L7,28" fill="none" stroke="#000" stroke-width="4.0" stroke-linejoin="round"/>
<path transform="translate(414.50,672.40)" d="M2,28.8 L11.5,0.3" fill="none" stroke="#000" stroke-width="4.0" stroke-linejoin="round"/>
<path transform="translate(425.80,672.40)" d="M2,8.4 C2,4.4 4.6,2.1 8.2,2.1 C12,2.1 14.2,4.4 14.2,7.8 C14.2,10.4 13.2,12.2 11.7,14.3 L2.6,25.9 L16.2,25.9" fill="none" stroke="#000" stroke-width="4.0" stroke-linejoin="round"/>
</svg></body></html>
